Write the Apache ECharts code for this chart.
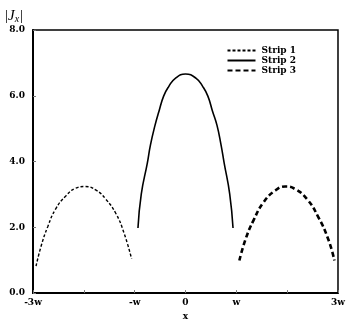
<!DOCTYPE html>
<html>
<head>
<meta charset="utf-8">
<script src="https://cdn.jsdelivr.net/npm/echarts@6/dist/echarts.min.js"></script>
<style>
html,body{margin:0;padding:0;background:#fff;}
#chart{width:348px;height:326px;}
</style>
</head>
<body>
<div id="chart"></div>
<script>
// x in units of w, |Jx| values
var strip1X = [-2.94, -2.84, -2.71, -2.55, -2.35, -2.16, -1.97, -1.76, -1.57, -1.37, -1.21, -1.06];
var strip1Y = [0.82, 1.43, 2.02, 2.57, 2.96, 3.19, 3.24, 3.13, 2.86, 2.42, 1.83, 1.04];

var strip2X = [-0.935, -0.87, -0.75, -0.69, -0.60, -0.52, -0.43, -0.33, -0.20, 0, 0.21, 0.34, 0.44, 0.53, 0.62, 0.70, 0.76, 0.87, 0.935];
var strip2Y = [1.98, 3.01, 3.96, 4.50, 5.10, 5.54, 5.99, 6.28, 6.53, 6.66, 6.53, 6.28, 5.99, 5.54, 5.10, 4.50, 3.96, 3.01, 1.98];

var strip3X = [1.06, 1.18, 1.34, 1.54, 1.76, 1.96, 2.16, 2.39, 2.61, 2.81, 2.93];
var strip3Y = [0.99, 1.63, 2.22, 2.77, 3.11, 3.24, 3.16, 2.86, 2.32, 1.63, 0.99];

var xTickNames = {'-3': '-3w', '-1': '-w', '0': '0', '1': 'w', '3': '3w'};
var yTicks = [0, 2, 4, 6, 8];

function pairs(xs, ys){
	var out = [];
	for(var i=0;i<xs.length;i++){
		out.push([xs[i], ys[i]]);
	}
	return out;
}

var serif = 'DejaVu Serif';
var myChart = echarts.init(document.getElementById('chart'));

var option = {
	animation: false,
	backgroundColor: '#fff',
	title: {
		text: '|{j|J}{s|x}|',
		left: 0,
		top: 3,
		textStyle: {
			fontFamily: 'Liberation Serif',
			fontSize: 15,
			fontWeight: 'normal',
			color: '#000',
			rich: {
				j: {fontFamily: 'Liberation Serif', fontStyle: 'italic', fontSize: 15, color: '#000'},
				s: {fontFamily: 'Liberation Serif', fontStyle: 'italic', fontSize: 10, color: '#000', padding: [6, 1, 0, 0]}
			}
		}
	},
	legend: {
		orient: 'vertical',
		right: 47,
		top: 41,
		itemWidth: 28,
		itemHeight: 8,
		itemGap: 1,
		itemStyle: {opacity: 0},
		textStyle: {fontFamily: serif, fontWeight: 'bold', fontSize: 9, color: '#000', padding: [0, 0, 0, 1]},
		data: ['Strip 1', 'Strip 2', 'Strip 3']
	},
	grid: {
		left: 33, right: 9, top: 30, bottom: 26,
		show: true,
		borderColor: '#000',
		borderWidth: 1.5,
		backgroundColor: 'transparent'
	},
	xAxis: {
		type: 'value',
		min: -3,
		max: 3,
		interval: 1,
		name: 'x',
		nameLocation: 'middle',
		nameGap: 18,
		nameTextStyle: {fontFamily: serif, fontWeight: 'bold', fontSize: 9, color: '#000'},
		axisLine: {show: true, onZero: false, lineStyle: {color: '#000', width: 2}},
		axisTick: {show: true, inside: true, length: 3, lineStyle: {color: '#777', width: 1}},
		splitLine: {show: false},
		axisLabel: {
			margin: 5,
			fontFamily: serif, fontWeight: 'bold', fontSize: 9, color: '#000',
			formatter: function(v){
				var k = String(Math.round(v));
				return xTickNames[k] !== undefined ? xTickNames[k] : '';
			}
		}
	},
	yAxis: {
		type: 'value',
		min: yTicks[0],
		max: yTicks[yTicks.length-1],
		interval: 2,
		axisLine: {show: true, onZero: false, lineStyle: {color: '#000', width: 2}},
		axisTick: {show: true, inside: true, length: 3, lineStyle: {color: '#777', width: 1}},
		splitLine: {show: false},
		axisLabel: {
			margin: 8,
			fontFamily: serif, fontWeight: 'bold', fontSize: 9, color: '#000',
			formatter: function(v){ return v.toFixed(1); }
		}
	},
	series: [
		{
			name: 'Strip 1',
			type: 'line',
			smooth: 0.5,
			symbol: 'none',
			lineStyle: {color: '#000', width: 1.4, type: [3, 2]},
			itemStyle: {color: '#000'},
			data: pairs(strip1X, strip1Y)
		},
		{
			name: 'Strip 2',
			type: 'line',
			smooth: 0.5,
			symbol: 'none',
			lineStyle: {color: '#000', width: 1.6, type: 'solid'},
			itemStyle: {color: '#000'},
			data: pairs(strip2X, strip2Y)
		},
		{
			name: 'Strip 3',
			type: 'line',
			smooth: 0.5,
			symbol: 'none',
			lineStyle: {color: '#000', width: 2.6, type: [5, 3]},
			itemStyle: {color: '#000'},
			data: pairs(strip3X, strip3Y)
		}
	]
};

myChart.setOption(option);
</script>
</body>
</html>
